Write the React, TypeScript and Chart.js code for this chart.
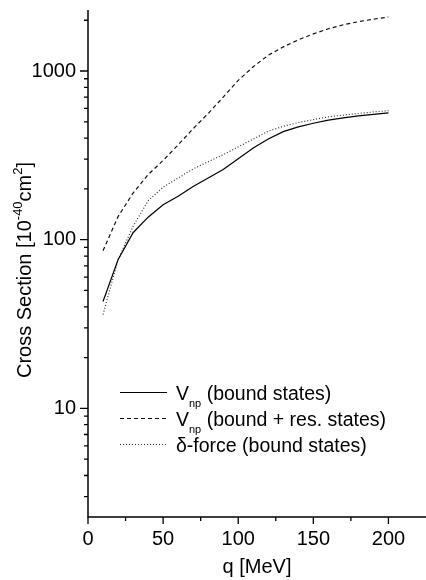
import React, { useEffect, useRef } from "react";
import { Chart, registerables } from "chart.js";

Chart.register(...registerables);

// ---- data ----
const Q = [10, 20, 30, 40, 50, 60, 70, 80, 90, 100, 110, 120, 130, 140, 150, 160, 170, 180, 190, 200];
const V_NP_BOUND = [43, 76, 110, 136, 161, 181, 207, 232, 261, 302, 350, 395, 437, 466, 490, 512, 528, 542, 554, 565];
const V_NP_BOUND_RES = [86, 137, 189, 243, 295, 365, 455, 560, 700, 880, 1060, 1240, 1390, 1530, 1660, 1780, 1880, 1960, 2030, 2090];
const DELTA_BOUND = [36, 76, 120, 170, 205, 232, 263, 290, 319, 355, 395, 440, 470, 495, 515, 535, 548, 560, 572, 582];

const X_TICKS = [0, 25, 50, 75, 100, 125, 150, 175, 200];
const X_TICK_LABELS = [0, 50, 100, 150, 200];
const Y_TICKS = [3, 4, 5, 6, 7, 8, 9, 10, 20, 30, 40, 50, 60, 70, 80, 90, 100, 200, 300, 400, 500, 600, 700, 800, 900, 1000, 2000];
const Y_TICK_LABELS = [10, 100, 1000];

const LEGEND_MAIN = ["V", "V", "\u03b4-force"];
const LEGEND_SUB = ["np", "np", ""];
const LEGEND_REST = [" (bound states)", " (bound + res. states)", " (bound states)"];

const X_TITLE = "q [MeV]";
const Y_TITLE_TEXT = ["Cross Section [10", "-40", "cm", "2", "]"];
const Y_TITLE_SUP = [false, true, false, true, false];

const FONT = "'Liberation Sans', Arial, Helvetica, sans-serif";

const decorPlugin = {
  id: "decor",
  afterDraw(chart: any) {
    const ctx = chart.ctx as CanvasRenderingContext2D;
    const area = chart.chartArea;
    const xs = chart.scales.x;
    const ys = chart.scales.y;
    ctx.save();
    ctx.strokeStyle = "#000";
    ctx.fillStyle = "#000";
    // spines
    ctx.lineWidth = 1.5;
    ctx.beginPath();
    ctx.moveTo(area.left, area.top);
    ctx.lineTo(area.left, area.bottom);
    ctx.lineTo(area.right, area.bottom);
    ctx.stroke();
    // ticks
    ctx.lineWidth = 1.3;
    ctx.beginPath();
    for (const v of Y_TICKS) {
      const p = ys.getPixelForValue(v);
      const len = Y_TICK_LABELS.includes(v) ? 8 : 4;
      ctx.moveTo(area.left - len, p);
      ctx.lineTo(area.left, p);
    }
    for (const v of X_TICKS) {
      const p = xs.getPixelForValue(v);
      const len = X_TICK_LABELS.includes(v) ? 7 : 4;
      ctx.moveTo(p, area.bottom);
      ctx.lineTo(p, area.bottom + len);
    }
    ctx.stroke();

    // x title
    ctx.font = `20px ${FONT}`;
    ctx.textAlign = "center";
    ctx.textBaseline = "alphabetic";
    ctx.fillText(X_TITLE, (area.left + area.right) / 2, 573);

    // y title (rotated, with superscripts)
    ctx.save();
    ctx.translate(31, 270);
    ctx.rotate(-Math.PI / 2);
    ctx.textAlign = "left";
    const mainFont = `20px ${FONT}`;
    const supFont = `13px ${FONT}`;
    let total = 0;
    Y_TITLE_TEXT.forEach((t, i) => {
      ctx.font = Y_TITLE_SUP[i] ? supFont : mainFont;
      total += ctx.measureText(t).width;
    });
    let cx = -total / 2;
    Y_TITLE_TEXT.forEach((t, i) => {
      ctx.font = Y_TITLE_SUP[i] ? supFont : mainFont;
      ctx.fillText(t, cx, Y_TITLE_SUP[i] ? -9 : 0);
      cx += ctx.measureText(t).width;
    });
    ctx.restore();

    // legend
    const lx0 = area.left + 32;
    const lx1 = area.left + 79;
    const tx = area.left + 88;
    const y0 = area.bottom - 124.5;
    chart.data.datasets.forEach((ds: any, i: number) => {
      const y = y0 + i * 26;
      ctx.save();
      ctx.strokeStyle = ds.borderColor;
      ctx.lineWidth = ds.borderWidth;
      ctx.setLineDash(ds.borderDash || []);
      ctx.beginPath();
      ctx.moveTo(lx0, y);
      ctx.lineTo(lx1, y);
      ctx.stroke();
      ctx.restore();
      ctx.textAlign = "left";
      ctx.textBaseline = "alphabetic";
      let x = tx;
      ctx.font = `19.5px ${FONT}`;
      ctx.fillText(LEGEND_MAIN[i], x, y + 7);
      x += ctx.measureText(LEGEND_MAIN[i]).width;
      if (LEGEND_SUB[i]) {
        ctx.font = `11px ${FONT}`;
        ctx.fillText(LEGEND_SUB[i], x, y + 14);
        x += ctx.measureText(LEGEND_SUB[i]).width;
      }
      ctx.font = `19.5px ${FONT}`;
      ctx.fillText(LEGEND_REST[i], x, y + 7);
    });
    ctx.restore();
  },
};

export default function App() {
  const ref = useRef<HTMLCanvasElement | null>(null);
  useEffect(() => {
    if (!ref.current) return;
    const chart = new Chart(ref.current, {
      type: "line",
      data: {
        labels: Q,
        datasets: [
          {
            label: "Vnp (bound states)",
            data: Q.map((q, i) => ({ x: q, y: V_NP_BOUND[i] })),
            borderColor: "#000",
            borderWidth: 1.2,
            pointRadius: 0,
            tension: 0,
            fill: false,
          },
          {
            label: "Vnp (bound + res. states)",
            data: Q.map((q, i) => ({ x: q, y: V_NP_BOUND_RES[i] })),
            borderColor: "#111",
            borderWidth: 1.2,
            borderDash: [4, 3],
            pointRadius: 0,
            tension: 0,
            fill: false,
          },
          {
            label: "delta-force (bound states)",
            data: Q.map((q, i) => ({ x: q, y: DELTA_BOUND[i] })),
            borderColor: "#333",
            borderWidth: 1.2,
            borderDash: [1, 2],
            pointRadius: 0,
            tension: 0,
            fill: false,
          },
        ],
      },
      options: {
        animation: false,
        responsive: false,
        layout: { padding: { top: 10, left: 0, right: 0, bottom: 0 } },
        plugins: { legend: { display: false }, tooltip: { enabled: false } },
        scales: {
          x: {
            type: "linear",
            min: 0,
            max: 225,
            grid: { display: false, drawTicks: false },
            border: { display: false },
            afterBuildTicks: (s: any) => {
              s.ticks = X_TICKS.map((v) => ({ value: v }));
            },
            afterFit: (s: any) => {
              s.height = 63;
              s.paddingLeft = 0;
              s.paddingRight = 0;
            },
            ticks: {
              autoSkip: false,
              maxRotation: 0,
              padding: 10,
              color: "#000",
              font: { family: FONT, size: 20 },
              callback: (v: any) => (X_TICK_LABELS.includes(Number(v)) ? String(v) : ""),
            },
          },
          y: {
            type: "logarithmic",
            min: 2.27,
            max: 2300,
            grid: { display: false, drawTicks: false },
            border: { display: false },
            afterBuildTicks: (s: any) => {
              s.ticks = Y_TICKS.map((v) => ({ value: v }));
            },
            afterFit: (s: any) => {
              s.width = 88;
              s.paddingTop = 0;
              s.paddingBottom = 0;
            },
            ticks: {
              autoSkip: false,
              padding: 12,
              color: "#000",
              font: { family: FONT, size: 20 },
              callback: (v: any) => (Y_TICK_LABELS.includes(Number(v)) ? String(v) : ""),
            },
          },
        },
      },
      plugins: [decorPlugin],
    } as any);
    return () => chart.destroy();
  }, []);
  return (
    <div style={{ position: "absolute", left: 0, top: 0, width: 426, height: 580, background: "#fff" }}>
      <canvas ref={ref} width={426} height={580} style={{ display: "block" }} />
    </div>
  );
}
